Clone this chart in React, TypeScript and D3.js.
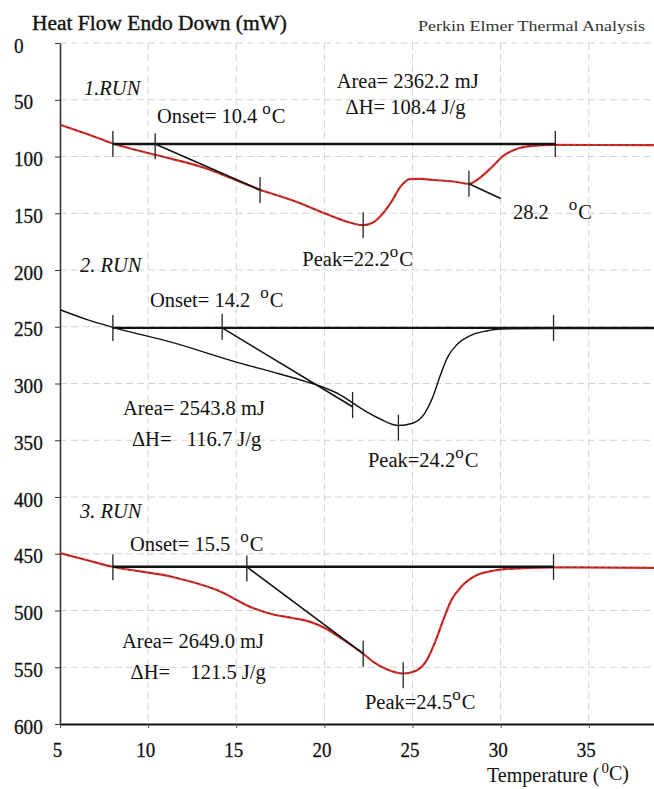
import { useEffect, useRef } from "react";
import * as d3 from "d3";

const W = 654;
const H = 789;

// axis ticks
const xTicks = [5, 10, 15, 20, 25, 30, 35];
const yTicks = [0, 50, 100, 150, 200, 250, 300, 350, 400, 450, 500, 550, 600];

// run 1 (red trace)
const run1Temp = [5, 6.5, 8, 10.4, 13, 16.3, 18.6, 20, 21.2, 22.2, 22.7, 23.15, 23.8, 24.3, 24.85, 25.5, 26.2, 27.3, 28.2, 28.8, 29.55, 30.1, 30.9, 31.8, 33, 38.7];
const run1Flow = [72, 80, 88.5, 98.5, 109, 129, 141, 150, 157, 160.5, 158.6, 153, 140, 127, 120, 119.8, 120.7, 122, 124, 119, 108.6, 100, 93.4, 90.7, 89.8, 90];
const run1Base = { from: 8, to: 33.1, flow: 89 };
const run1Tangents = [
  [[10.4, 89], [16.35, 129.5]],
  [[28.2, 124], [30, 137]],
];
const run1Marks = [[8, 89], [10.4, 91], [16.35, 129.5], [22.2, 160.5], [28.2, 124], [33.1, 89]];

// run 2 (black trace)
const run2Temp = [5, 6.5, 8, 11.4, 15.2, 17.1, 19, 19.6, 20.9, 21.6, 22.4, 23.2, 24.2, 25, 25.7, 26.15, 26.55, 27, 27.5, 28.25, 29.2, 30, 33, 38.7];
const run2Flow = [235, 243.5, 250.5, 264, 282, 290, 298.5, 301.5, 310, 317, 325, 331.5, 337, 335, 326, 312, 294, 276.6, 266, 258, 253.7, 252, 251.5, 251.5];
const run2Base = { from: 8, to: 38.7, flow: 251 };
const run2Tangents = [[[14.2, 251], [21.6, 320.5]]];
const run2Marks = [[8, 251], [14.2, 250], [21.6, 319], [24.2, 339], [33, 251]];

// run 3 (red trace)
const run3Temp = [5, 6.5, 8, 11.4, 13.9, 15.95, 17.1, 18.2, 19.2, 20.1, 21, 22.2, 22.75, 23.5, 24.47, 25.2, 25.8, 26.3, 26.8, 27.2, 27.8, 28.63, 29.56, 30.34, 33, 38.7];
const run3Flow = [449.5, 455.5, 461.5, 470.5, 482, 497.8, 503.5, 506.6, 510, 516, 525, 538, 545, 551.5, 555.5, 553, 544, 527, 506, 491, 478.5, 469, 465, 463.4, 462, 462.5];
const run3Base = { from: 8, to: 33, flow: 461.5 };
const run3Tangents = [[[15.6, 461.5], [22.2, 538]]];
const run3Marks = [[8, 462], [15.6, 463], [22.2, 538], [24.47, 557], [33, 461.5]];

const SERIF = "Liberation Serif, Times New Roman, Times, DejaVu Serif, serif";

export default function App() {
  const svgRef = useRef(null);

  useEffect(() => {
    const svg = d3.select(svgRef.current).attr("width", W).attr("height", H);
    svg.selectAll("*").remove();
    svg.append("rect").attr("width", W).attr("height", H).attr("fill", "#fff");

    const x = d3.scaleLinear().domain([5, 38.7]).range([60, 654]);
    const y = d3.scaleLinear().domain([0, 600]).range([43, 724]);

    // faint grid
    const grid = svg.append("g").attr("stroke", "#c8c8c8").attr("stroke-width", 0.8).attr("stroke-dasharray", "7 4");
    xTicks.slice(1).forEach(t => {
      grid.append("line").attr("x1", x(t)).attr("x2", x(t)).attr("y1", y(0)).attr("y2", y(600));
    });
    yTicks.slice(0, -1).forEach(v => {
      grid.append("line").attr("x1", x(5)).attr("x2", W).attr("y1", y(v)).attr("y2", y(v));
    });

    // x axis
    const xa = svg.append("g")
      .attr("transform", `translate(0,${y(600)})`)
      .call(d3.axisBottom(x).tickValues(xTicks).tickSize(4).tickSizeOuter(0).tickFormat(d3.format("d")));
    xa.attr("font-family", null);
    xa.select(".domain").attr("stroke", "#111").attr("stroke-width", 2);
    xa.selectAll(".tick line").attr("stroke", "#555");
    xa.selectAll("text")
      .attr("dy", null).attr("y", 33).attr("dx", -3)
      .style("font-family", SERIF).style("font-size", "21px").attr("fill", "#111")
      .attr("stroke", "#111").attr("stroke-width", 0.3)
      .attr("textLength", d => String(d).length * 9.5).attr("lengthAdjust", "spacingAndGlyphs");

    // y axis
    const ya = svg.append("g")
      .attr("transform", `translate(${x(5)},0)`)
      .call(d3.axisLeft(y).tickValues(yTicks).tickSize(5).tickSizeOuter(0));
    ya.attr("font-family", null);
    ya.select(".domain").attr("stroke", "#333").attr("stroke-width", 1.6);
    ya.selectAll(".tick line").attr("stroke", "#333");
    ya.selectAll("text")
      .attr("x", -46).attr("dy", 9).attr("text-anchor", "start")
      .style("font-family", SERIF).style("font-size", "21px").attr("fill", "#111")
      .attr("stroke", "#111").attr("stroke-width", 0.3)
      .attr("textLength", d => String(d).length * 9.6).attr("lengthAdjust", "spacingAndGlyphs");

    // titles
    svg.append("text").attr("x", 32).attr("y", 30).text("Heat Flow Endo Down (mW)")
      .style("font-family", SERIF).style("font-size", "20px").attr("fill", "#111")
      .attr("stroke", "#111").attr("stroke-width", 0.35)
      .attr("textLength", 255).attr("lengthAdjust", "spacingAndGlyphs");
    svg.append("text").attr("x", 418).attr("y", 31).text("Perkin Elmer Thermal Analysis")
      .style("font-family", SERIF).style("font-size", "15px").attr("fill", "#333")
      .attr("textLength", 227).attr("lengthAdjust", "spacingAndGlyphs");

    const xt = svg.append("text").attr("x", 487).attr("y", 782)
      .style("font-family", SERIF).style("font-size", "20px").attr("fill", "#111");
    xt.append("tspan").text("Temperature (");
    xt.append("tspan").attr("dy", -9).attr("dx", 2).style("font-size", "15px").text("0");
    xt.append("tspan").attr("dy", 7).text("C)");

    const line = d3.line().x(d => x(d[0])).y(d => y(d[1])).curve(d3.curveMonotoneX);
    const zip = (a, b) => a.map((t, i) => [t, b[i]]);

    const drawRun = (temps, flows, base, tangents, marks, red) => {
      const g = svg.append("g");
      const pts = zip(temps, flows);
      if (red) {
        g.append("path").attr("d", line(pts)).attr("fill", "none").attr("stroke", "#e02a2a").attr("stroke-width", 2.2);
        g.append("path").attr("d", line(pts)).attr("fill", "none").attr("stroke", "#2a3a2a")
          .attr("stroke-width", 1).attr("stroke-dasharray", "3 4").attr("opacity", 0.75);
      } else {
        g.append("path").attr("d", line(pts)).attr("fill", "none").attr("stroke", "#111").attr("stroke-width", 1.4);
      }
      g.append("line")
        .attr("x1", x(base.from)).attr("x2", x(base.to))
        .attr("y1", y(base.flow)).attr("y2", y(base.flow))
        .attr("stroke", "#111").attr("stroke-width", 2.4);
      tangents.forEach(tg => {
        g.append("line")
          .attr("x1", x(tg[0][0])).attr("y1", y(tg[0][1]))
          .attr("x2", x(tg[1][0])).attr("y2", y(tg[1][1]))
          .attr("stroke", "#111").attr("stroke-width", 1.6);
      });
      marks.forEach(m => {
        g.append("line")
          .attr("x1", x(m[0])).attr("x2", x(m[0]))
          .attr("y1", y(m[1]) - 13).attr("y2", y(m[1]) + 13)
          .attr("stroke", "#222").attr("stroke-width", 1.3);
      });
    };

    drawRun(run1Temp, run1Flow, run1Base, run1Tangents, run1Marks, true);
    drawRun(run2Temp, run2Flow, run2Base, run2Tangents, run2Marks, false);
    drawRun(run3Temp, run3Flow, run3Base, run3Tangents, run3Marks, true);

    // annotations
    const label = (t, v, main, deg = false, degGap = 4, italic = false) => {
      const tx = svg.append("text").attr("x", x(t)).attr("y", y(v))
        .style("font-family", SERIF).style("font-size", "20.5px").style("white-space", "pre")
        .attr("fill", "#111")
        .style("font-style", italic ? "italic" : "normal");
      tx.append("tspan").text(main);
      if (deg) {
        tx.append("tspan").attr("dx", degGap).attr("dy", -9).style("font-size", "17px").text("o");
        tx.append("tspan").attr("dx", 1).attr("dy", 9).text("C");
      }
    };

    label(6.36, 46, "1.RUN", false, 0, true);
    label(10.5, 70.5, "Onset= 10.4", true, 5);
    label(20.7, 39.6, "Area= 2362.2 mJ");
    label(21.2, 62.6, "\u0394H= 108.4 J/g");
    label(30.7, 155, "28.2", true, 20);
    label(18.75, 196.5, "Peak=22.2", true, 0);

    label(6.13, 202, "2. RUN", false, 0, true);
    label(10.1, 232.6, "Onset= 14.2", true, 10);
    label(8.57, 327.8, "Area= 2543.8 mJ");
    label(9.08, 355, "\u0394H=   116.7 J/g");
    label(22.47, 373.6, "Peak=24.2", true, 0);

    label(6.13, 418.5, "3. RUN", false, 0, true);
    label(8.97, 447.6, "Onset= 15.5", true, 10);
    label(8.52, 533, "Area= 2649.0 mJ");
    label(9.0, 560, "\u0394H=    121.5 J/g");
    label(22.3, 586.8, "Peak=24.5", true, 0);
  }, []);

  return <svg ref={svgRef} style={{ position: "absolute", left: 0, top: 0, display: "block" }} />;
}
